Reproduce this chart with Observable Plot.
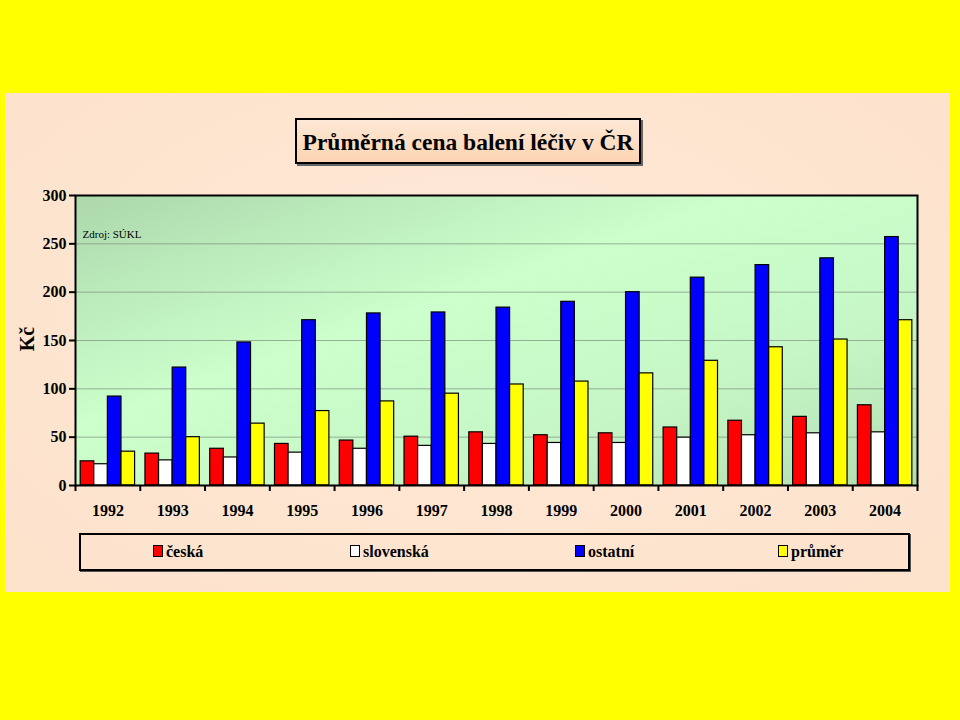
<!DOCTYPE html>
<html>
<head>
<meta charset="utf-8">
<script src="https://cdn.jsdelivr.net/npm/d3@7"></script>
<script src="https://cdn.jsdelivr.net/npm/@observablehq/plot@0.6"></script>
<style>
  html, body { margin: 0; padding: 0; }
  body { width: 960px; height: 720px; background: #ffff00; position: relative; overflow: hidden; font-family: "Liberation Serif", "Times New Roman", serif; }
  #panel { position: absolute; left: 5px; top: 93px; width: 945px; height: 499px; background: radial-gradient(ellipse at 50% 45%, #fee9d8 0%, #fde2cb 100%); }
  #title { position: absolute; left: 295px; top: 118px; width: 346px; height: 46px; box-sizing: border-box; border: 2px solid #000; background: linear-gradient(180deg, #fde8d6 0%, #fcd4b2 100%); box-shadow: 2px 2px 0 #666; font-weight: bold; font-size: 23.5px; text-align: center; line-height: 44px; color: #000; white-space: nowrap; }
  #chart { position: absolute; left: 0; top: 180px; }
  #ylab { position: absolute; left: 12px; top: 326px; width: 30px; height: 26px; transform: rotate(-90deg); font-weight: bold; font-size: 20px; text-align: center; line-height: 26px; }
  #legend { position: absolute; left: 79px; top: 533px; width: 831px; height: 38px; box-sizing: border-box; border: 2px solid #000; box-shadow: 1px 1px 0 #555; }
  .li { position: absolute; top: 8px; font-weight: bold; font-size: 16px; line-height: 18px; white-space: nowrap; }
  .sw { display: inline-block; width: 8px; height: 10px; border: 1px solid #000; margin-right: 3px; vertical-align: 0px; }
</style>
</head>
<body>
<div id="panel"></div>
<div id="title">Průměrná cena balení léčiv v ČR</div>
<div id="ylab">Kč</div>
<div id="chart"></div>
<div id="legend"></div>
<script>
const years = [1992, 1993, 1994, 1995, 1996, 1997, 1998, 1999, 2000, 2001, 2002, 2003, 2004];
const ceska = [25, 33, 38, 43, 46.5, 50.5, 55, 52, 54, 60, 67, 71, 83];
const slovenska = [22, 26, 29, 34, 38, 41, 43, 44, 44, 49.5, 52, 54, 55];
const ostatni = [92, 122, 148, 171, 178, 179, 184, 190, 200, 215, 228, 235, 257];
const prumer = [35, 50, 64, 77, 87, 95, 104.5, 107.5, 116, 129, 143, 151, 171];
const seriesNames = ["česká", "slovenská", "ostatní", "průměr"];
const seriesColors = ["#ff0000", "#ffffff", "#0000ff", "#ffff00"];
const yTicks = [0, 50, 100, 150, 200, 250, 300];
const sourceNote = "Zdroj: SÚKL";

const seriesValues = [ceska, slovenska, ostatni, prumer];
const data = years.flatMap((year, i) =>
  seriesNames.map((series, k) => ({ year, series, k, value: seriesValues[k][i] }))
);
const groupWidth = 0.84;
const barWidth = groupWidth / seriesNames.length;
const boundaries = [years[0] - 0.5, ...years.map(y => y + 0.5)];

const chart = Plot.plot({
  width: 960,
  height: 345,
  marginTop: 15,
  marginBottom: 40,
  marginLeft: 75,
  marginRight: 43,
  style: { fontFamily: "'Liberation Serif', 'Times New Roman', serif", background: "transparent", color: "#000" },
  x: { domain: [years[0] - 0.5, years[years.length - 1] + 0.5], label: null },
  y: { domain: [0, 300], label: null },
  color: { domain: seriesNames, range: seriesColors },
  marks: [
    Plot.frame({ fill: "url(#plotBg)", stroke: "none" }),
    Plot.gridY(yTicks.slice(1, -1), { stroke: "#7f8f7f", strokeOpacity: 0.7, strokeWidth: 1 }),
    Plot.rectY(data, {
      x1: d => d.year - groupWidth / 2 + d.k * barWidth,
      x2: d => d.year - groupWidth / 2 + (d.k + 1) * barWidth,
      y: "value",
      fill: "series",
      stroke: "#000",
      strokeWidth: 1.2
    }),
    Plot.frame({ stroke: "#000", strokeWidth: 2 }),
    Plot.axisY(yTicks, { tickSize: 6, tickPadding: 3, fontSize: 16, fontWeight: "bold", stroke: "#000", strokeWidth: 2, label: null }),
    Plot.axisX(boundaries, { tickSize: 6, tickFormat: () => "", stroke: "#000", strokeWidth: 2, label: null }),
    Plot.axisX(years, { tickSize: 0, tickPadding: 19, fontSize: 16, fontWeight: "bold", tickFormat: d => String(d), label: null }),
    Plot.text([sourceNote], { frameAnchor: "top-left", dx: 7, dy: 35, text: d => d, fontSize: 11, textAnchor: "start" })
  ]
});

const ns = "http://www.w3.org/2000/svg";
const defs = document.createElementNS(ns, "defs");
defs.innerHTML = `<linearGradient id="plotBg" x1="0" y1="0" x2="1" y2="1">
  <stop offset="0%" stop-color="#acd8ac"/>
  <stop offset="40%" stop-color="#ccffcc"/>
  <stop offset="70%" stop-color="#c6f6c6"/>
  <stop offset="100%" stop-color="#b2deb2"/>
</linearGradient>`;
chart.insertBefore(defs, chart.firstChild);
document.getElementById("chart").appendChild(chart);

const legend = document.getElementById("legend");
const legendX = [72, 269, 494, 697];
seriesNames.forEach((name, k) => {
  const item = document.createElement("div");
  item.className = "li";
  item.style.left = legendX[k] + "px";
  const sw = document.createElement("span");
  sw.className = "sw";
  sw.style.background = seriesColors[k];
  item.appendChild(sw);
  item.appendChild(document.createTextNode(name));
  legend.appendChild(item);
});
</script>
</body>
</html>
